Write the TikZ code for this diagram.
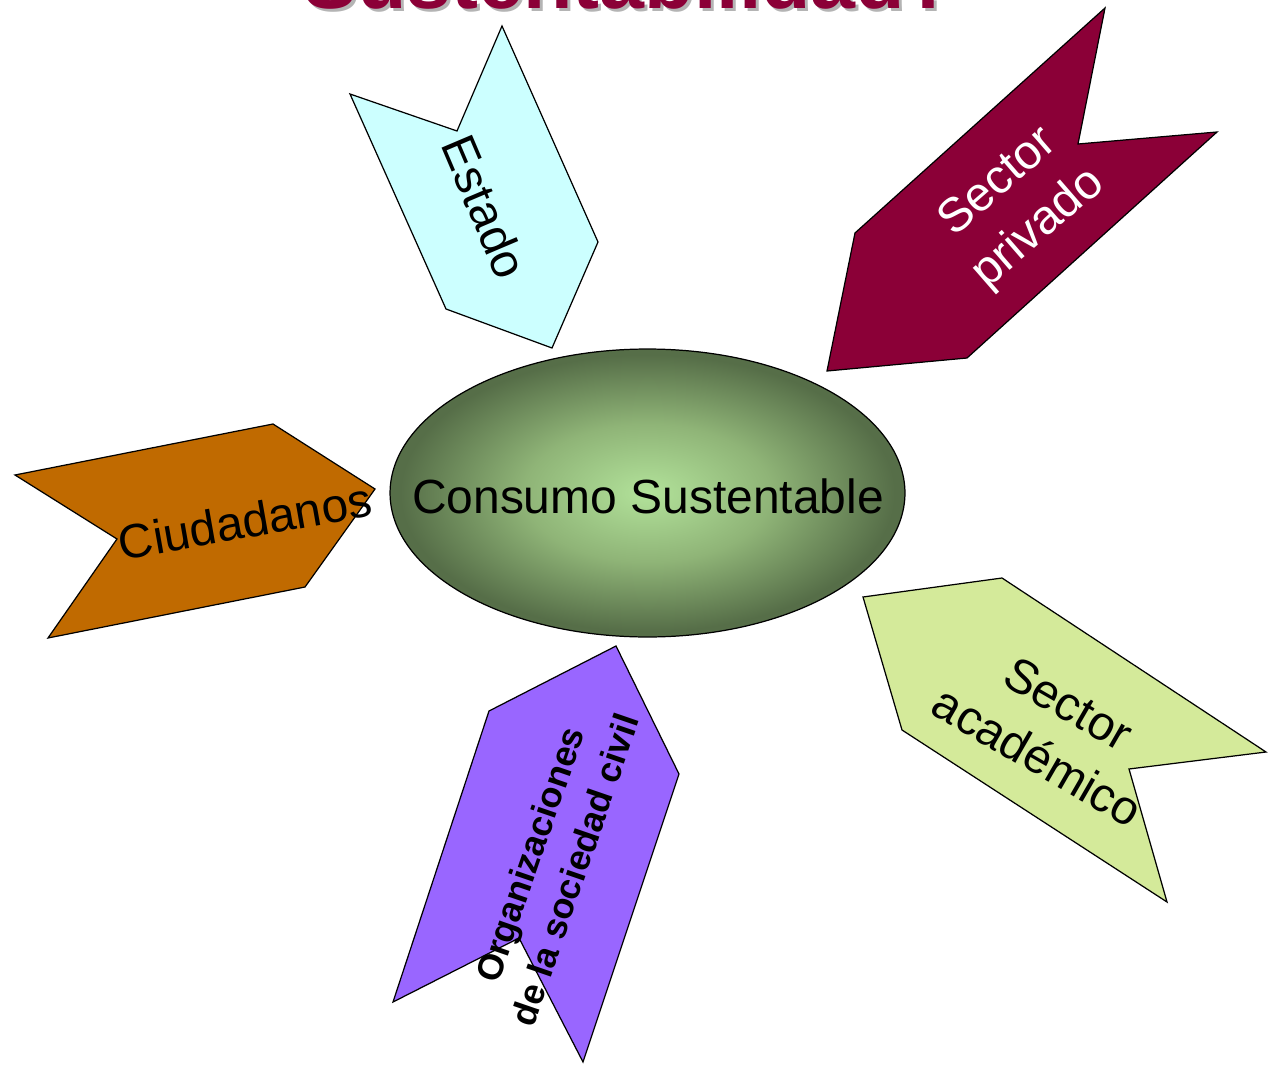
\documentclass[tikz,border=0pt]{standalone}
\usepackage{fontspec}
\setmainfont{Liberation Sans}
\usetikzlibrary{shapes.geometric}
\definecolor{cyanfill}{HTML}{CCFFFF}
\definecolor{crimson}{HTML}{8B0037}
\definecolor{orangefill}{HTML}{C06A00}
\definecolor{limefill}{HTML}{D4EA9A}
\definecolor{purplefill}{HTML}{9966FF}
\definecolor{ellin}{HTML}{B2E29A}
\definecolor{ellmid}{HTML}{8FB477}
\definecolor{ellout}{HTML}{566E48}
\definecolor{shadowgray}{HTML}{B4B4B4}
\pgfdeclareradialshading{ellshade}{\pgfpoint{0bp}{0bp}}{color(0bp)=(ellin); color(12bp)=(ellmid); color(24bp)=(ellout); color(50bp)=(ellout)}
\begin{document}
\begin{tikzpicture}[x=0.02cm,y=-0.02cm,
  arrowshape/.style={draw=black, line width=0.7pt, line join=miter},
  lbl/.style={font=\fontsize{27.3}{35}\selectfont, align=center, inner sep=0pt},
  orglbl/.style={font=\fontsize{20.4}{27}\selectfont\bfseries, align=center, inner sep=0pt},
  titlefont/.style={font=\fontsize{46}{50}\selectfont\bfseries, inner sep=0pt, anchor=base}]
\useasboundingbox (0,0) rectangle (1270,1064);
\clip (0,0) rectangle (1270,1064);

% title (cut off at top)
\node[titlefont, text=shadowgray] (titleshadow) at (632,12) {Sustentabilidad?};
\node[titlefont, text=crimson] (title) at (629,9) {Sustentabilidad?};

% arrows
\draw[arrowshape, fill=cyanfill] (502,26)--(598,242)--(552,348)--(446,309)--(350,94)--(457,131)--cycle;
\draw[arrowshape, fill=crimson] (1105,8)--(1078,144)--(1217,132)--(967,358)--(827,371)--(855,233)--cycle;
\draw[arrowshape, fill=orangefill] (15,475)--(273,424)--(375,489)--(305,587)--(48,638)--(117,539)--cycle;
\draw[arrowshape, fill=limefill] (863,597)--(1002,578)--(1266,752)--(1129,769)--(1167,902)--(902,730)--cycle;
\draw[arrowshape, fill=purplefill] (616,646)--(679,774)--(583,1062)--(519,938)--(393,1002)--(489,711)--cycle;

% centre ellipse
\node[ellipse, draw=black, line width=0.7pt, shading=ellshade, minimum width=10.3cm, minimum height=5.76cm, inner sep=0pt] (centro) at (647.5,493) {};
\node[lbl] (consumo) at (648,496) {Consumo Sustentable};

% labels
\node[lbl, rotate=-67] (estado) at (485,207) {Estado};
\node[lbl, text=white, rotate=41] (privado) at (1019,206) {Sector\\privado};
\node[lbl, rotate=10] (ciudadanos) at (245,521) {Ciudadanos};
\node[lbl, rotate=-30] (academico) at (1053,730) {Sector\\académico};
\node[orglbl, rotate=71] (org) at (552,862) {Organizaciones\\de la sociedad civil};
\end{tikzpicture}
\end{document}
